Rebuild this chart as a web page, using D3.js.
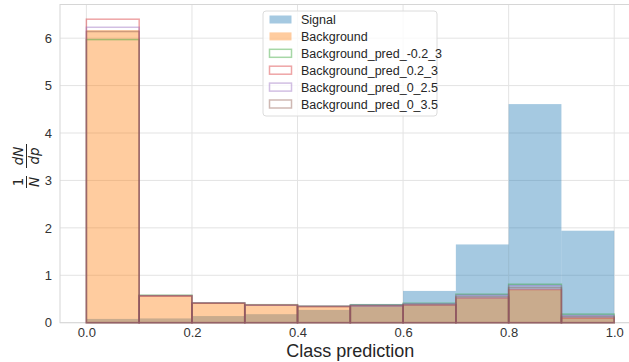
<!DOCTYPE html>
<html>
<head>
<meta charset="utf-8">
<script src="https://cdn.jsdelivr.net/npm/d3@7"></script>
<style>
  body { margin: 0; background: #fff; }
  svg { display: block; font-family: "Liberation Sans", Arial, sans-serif; }
</style>
</head>
<body>
<svg width="629" height="362"></svg>
<script>
// bin edges of the histogram
const binEdges = [0, 0.1, 0.2, 0.3, 0.4, 0.5, 0.6, 0.7, 0.8, 0.9, 1.0];

// normalised heights per bin
const signal     = [0.08, 0.09, 0.14, 0.18, 0.27, 0.39, 0.67, 1.65, 4.61, 1.94];
const background = [6.17, 0.57, 0.41, 0.36, 0.33, 0.33, 0.36, 0.51, 0.69, 0.10];
const predM02_3  = [5.97, 0.58, 0.42, 0.38, 0.35, 0.38, 0.41, 0.60, 0.81, 0.18];
const pred02_3   = [6.40, 0.56, 0.41, 0.37, 0.34, 0.35, 0.37, 0.52, 0.70, 0.10];
const pred0_25   = [6.23, 0.57, 0.42, 0.37, 0.35, 0.37, 0.40, 0.58, 0.78, 0.15];
const pred0_35   = [6.14, 0.57, 0.41, 0.37, 0.34, 0.36, 0.38, 0.55, 0.74, 0.13];

const xTicks = [0.0, 0.2, 0.4, 0.6, 0.8, 1.0];
const yTicks = [0, 1, 2, 3, 4, 5, 6];

const series = [
    { name: "Signal", values: signal, color: "#1f77b4", fill: true },
    { name: "Background", values: background, color: "#ff7f0e", fill: true },
    { name: "Background_pred_-0.2_3", values: predM02_3, color: "#2ca02c", fill: false },
    { name: "Background_pred_0.2_3", values: pred02_3, color: "#d62728", fill: false },
    { name: "Background_pred_0_2.5", values: pred0_25, color: "#9467bd", fill: false },
    { name: "Background_pred_0_3.5", values: pred0_35, color: "#8c564b", fill: false }
];

const svg = d3.select("svg");
const plotL = 60, plotT = 4.5, plotB = 322.7, plotR = 640.6;

const x = d3.scaleLinear().domain([-0.05, 1.05]).range([plotL, plotR]);
const y = d3.scaleLinear().domain([0, 6.71]).range([plotB, plotT]);

// grid
const grid = svg.append("g");
grid.selectAll(".vg").data(xTicks).enter().append("line")
    .attr("x1", d => x(d)).attr("x2", d => x(d))
    .attr("y1", plotT).attr("y2", plotB)
    .attr("stroke", "#e3e3e3").attr("stroke-width", 1);
grid.selectAll(".hg").data(yTicks).enter().append("line")
    .attr("x1", plotL).attr("x2", plotR)
    .attr("y1", d => y(d)).attr("y2", d => y(d))
    .attr("stroke", "#e3e3e3").attr("stroke-width", 1);

// spines
svg.append("rect")
    .attr("x", plotL).attr("y", plotT)
    .attr("width", plotR - plotL).attr("height", plotB - plotT)
    .attr("fill", "none").attr("stroke", "#d6d6d6").attr("stroke-width", 1);

// bars
series.forEach(s => {
    const g = svg.append("g");
    g.selectAll("rect")
        .data(s.values)
        .enter()
        .append("rect")
        .attr("x", (d, i) => x(binEdges[i]))
        .attr("width", (d, i) => x(binEdges[i + 1]) - x(binEdges[i]))
        .attr("y", d => y(d))
        .attr("height", d => y(0) - y(d))
        .attr("fill", s.fill ? s.color : "none")
        .attr("fill-opacity", s.fill ? 0.4 : 0)
        .attr("stroke", s.fill ? "none" : s.color)
        .attr("stroke-opacity", 0.42)
        .attr("stroke-width", 1.5);
});

// axes
const xAxis = d3.axisBottom(x).tickValues(xTicks).tickFormat(d3.format(".1f")).tickSize(0).tickPadding(5);
const xAxisG = svg.append("g").attr("transform", `translate(0,${plotB})`).call(xAxis);
xAxisG.select(".domain").remove();
xAxisG.selectAll("text").attr("fill", "#333").style("font-size", "13px")
    .style("font-family", "'Liberation Sans', Arial, sans-serif");

const yAxis = d3.axisLeft(y).tickValues(yTicks).tickFormat(d3.format("d")).tickSize(0).tickPadding(8);
const yAxisG = svg.append("g").attr("transform", `translate(${plotL},0)`).call(yAxis);
yAxisG.select(".domain").remove();
yAxisG.selectAll("text").attr("fill", "#333").style("font-size", "13px")
    .style("font-family", "'Liberation Sans', Arial, sans-serif");

// x label
svg.append("text")
    .attr("x", x(0.5)).attr("y", 356.5)
    .attr("text-anchor", "middle")
    .attr("fill", "#262626")
    .style("font-size", "18px")
    .text("Class prediction");

// y label: 1/N dN/dp
const yl = svg.append("g")
    .attr("transform", "translate(26,167) rotate(-90)")
    .attr("fill", "#262626")
    .style("font-family", "'DejaVu Sans', sans-serif")
    .style("font-size", "13.5px");
yl.append("text").attr("x", -15).attr("y", -3).attr("text-anchor", "middle").text("1");
yl.append("text").attr("x", -15).attr("y", 13).attr("text-anchor", "middle").style("font-style", "italic").text("N");
yl.append("line").attr("x1", -21).attr("x2", -9).attr("y1", 0.5).attr("y2", 0.5).attr("stroke", "#262626").attr("stroke-width", 1);
yl.append("text").attr("x", 11).attr("y", -3).attr("text-anchor", "middle").style("font-style", "italic").text("dN");
yl.append("text").attr("x", 11).attr("y", 13).attr("text-anchor", "middle").style("font-style", "italic").text("dp");
yl.append("line").attr("x1", -1).attr("x2", 23).attr("y1", 0.5).attr("y2", 0.5).attr("stroke", "#262626").attr("stroke-width", 1);

// legend
const lg = svg.append("g").attr("transform", "translate(263,11)");
lg.append("rect")
    .attr("width", 174).attr("height", 105).attr("rx", 3)
    .attr("fill", "#fff").attr("fill-opacity", 0.8)
    .attr("stroke", "#dcdcdc").attr("stroke-width", 1);
const items = lg.selectAll(".item").data(series).enter().append("g")
    .attr("transform", (d, i) => `translate(6,${8.5 + i * 16.9})`);
items.append("rect")
    .attr("x", 0.5).attr("y", -4).attr("width", 22).attr("height", 8)
    .attr("fill", d => d.fill ? d.color : "none")
    .attr("fill-opacity", d => d.fill ? 0.4 : 0)
    .attr("stroke", d => d.fill ? "none" : d.color)
    .attr("stroke-opacity", 0.42)
    .attr("stroke-width", 1.5);
items.append("text")
    .attr("x", 32).attr("y", 4.5)
    .attr("fill", "#262626")
    .style("font-size", "12.5px")
    .text(d => d.name);
</script>
</body>
</html>
